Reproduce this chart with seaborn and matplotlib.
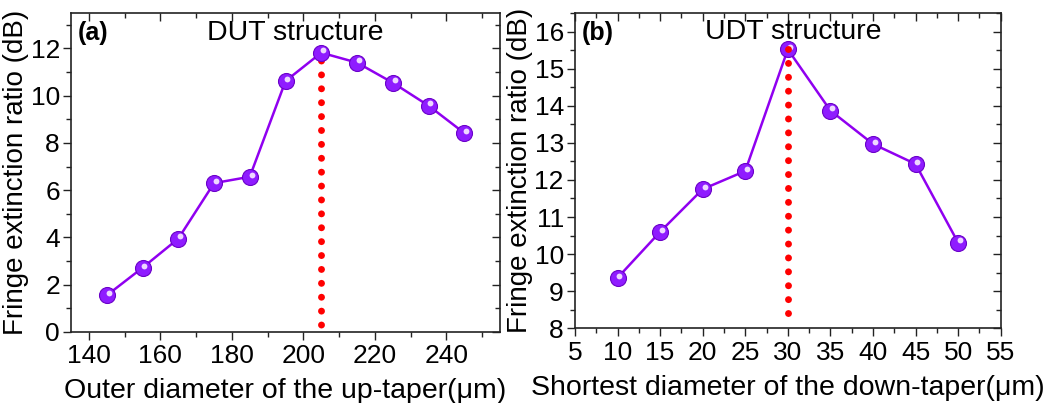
import numpy as np
import pandas as pd
import matplotlib
matplotlib.use("Agg")
import matplotlib.pyplot as plt
import matplotlib.transforms as mtransforms
from matplotlib.ticker import MultipleLocator
import seaborn as sns

# Panel (a): DUT structure
outer_diam = [145, 155, 165, 175, 185, 195, 205, 215, 225, 235, 245]
er_dut = [1.55, 2.72, 3.95, 6.30, 6.57, 10.62, 11.82, 11.40, 10.55, 9.58, 8.42]

# Panel (b): UDT structure
shortest_diam = [10, 15, 20, 25, 30, 35, 40, 45, 50]
er_udt = [9.36, 10.60, 11.75, 12.24, 15.52, 13.87, 12.97, 12.43, 10.31]

xlabel_a = "Outer diameter of the up-taper(\u03bcm)"
xlabel_b = "Shortest diameter of the down-taper(\u03bcm)"
ylabel = "Fringe extinction ratio (dB)"

sns.set_theme(style="ticks")
plt.rcParams["font.family"] = ["Liberation Sans", "DejaVu Sans"]
plt.rcParams.update({
    "text.color": "black",
    "axes.labelcolor": "black",
    "xtick.color": "#222222",
    "ytick.color": "#222222",
    "xtick.labelcolor": "black",
    "ytick.labelcolor": "black",
})

LINE_C = "#9000f0"
BALL_C = "#8f1cff"
BALL_EDGE = "#6a00c8"
HILITE = "#eed8ff"
DOT_C = "#ff0000"

fig = plt.figure(figsize=(10.54, 4.03), dpi=100)
ax_a = fig.add_axes([0.0674, 0.1762, 0.4070, 0.7915])
ax_b = fig.add_axes([0.5455, 0.1854, 0.4039, 0.7823])


def draw_panel(ax, x, y, guide_bottom, guide_offset, guide_z):
    df = pd.DataFrame({"x": x, "y": y})
    sns.lineplot(data=df, x="x", y="y", ax=ax, color=LINE_C, lw=1.8,
                 marker="o", markersize=11.5, markerfacecolor=BALL_C,
                 markeredgecolor=BALL_EDGE, markeredgewidth=0.8, zorder=4)
    # glossy highlight on each ball
    hl = mtransforms.offset_copy(ax.transData, fig=fig, x=1.4, y=1.6, units="points")
    ax.plot(x, y, ls="none", marker="o", markersize=4.2, color=HILITE,
            markeredgewidth=0, transform=hl, zorder=5)
    # dotted guide dropping from the maximum
    i = int(np.argmax(y))
    ax.plot([x[i], x[i]], [y[i], guide_bottom], color=DOT_C, lw=5.0,
            ls=(guide_offset, (0.001, 2.0)), dash_capstyle="round",
            zorder=guide_z)
    ax.set_ylabel(ylabel, fontsize=20, labelpad=1)


# ---- panel (a)
draw_panel(ax_a, outer_diam, er_dut, 0.3, 0.92, 3)
ax_a.set_xlim(135, 255)
ax_a.set_ylim(0, 13.5)
ax_a.xaxis.set_major_locator(MultipleLocator(20))
ax_a.xaxis.set_minor_locator(MultipleLocator(10))
ax_a.yaxis.set_major_locator(MultipleLocator(2))
ax_a.yaxis.set_minor_locator(MultipleLocator(1))
ax_a.set_xlabel(xlabel_a, fontsize=20.5, labelpad=7)

# ---- panel (b)
draw_panel(ax_b, shortest_diam, er_udt, 8.3, 0.0, 6)
ax_b.set_xlim(5, 55)
ax_b.set_ylim(8, 16.5)
ax_b.xaxis.set_major_locator(MultipleLocator(5))
ax_b.xaxis.set_minor_locator(MultipleLocator(2.5))
ax_b.yaxis.set_major_locator(MultipleLocator(1))
ax_b.yaxis.set_minor_locator(MultipleLocator(0.5))
ax_b.set_xlabel(xlabel_b, fontsize=20.5, labelpad=7)

for ax in (ax_a, ax_b):
    ax.tick_params(which="both", labelsize=19, top=True, right=True, width=1.0)
    ax.tick_params(which="major", direction="out", length=6, pad=2)
    ax.tick_params(which="minor", direction="out", length=3.5)
    ax.tick_params(axis="x", which="major", pad=3)
    for s in ax.spines.values():
        s.set_color("#222222")
        s.set_linewidth(1.2)
    # top/right ticks point inward
    for t in ax.xaxis.get_major_ticks() + ax.xaxis.get_minor_ticks():
        t.tick2line.set_marker(3)
    for t in ax.yaxis.get_major_ticks() + ax.yaxis.get_minor_ticks():
        t.tick2line.set_marker(0)

ax_a.text(0.015, 0.975, "(a)", transform=ax_a.transAxes, fontsize=18,
          fontweight="bold", va="top", ha="left")
ax_a.text(0.522, 0.937, "DUT structure", transform=ax_a.transAxes,
          fontsize=20.5, va="center", ha="center")
ax_b.text(0.015, 0.975, "(b)", transform=ax_b.transAxes, fontsize=18,
          fontweight="bold", va="top", ha="left")
ax_b.text(0.512, 0.94, "UDT structure", transform=ax_b.transAxes,
          fontsize=20.5, va="center", ha="center")

fig.savefig("out.png", dpi=100)
